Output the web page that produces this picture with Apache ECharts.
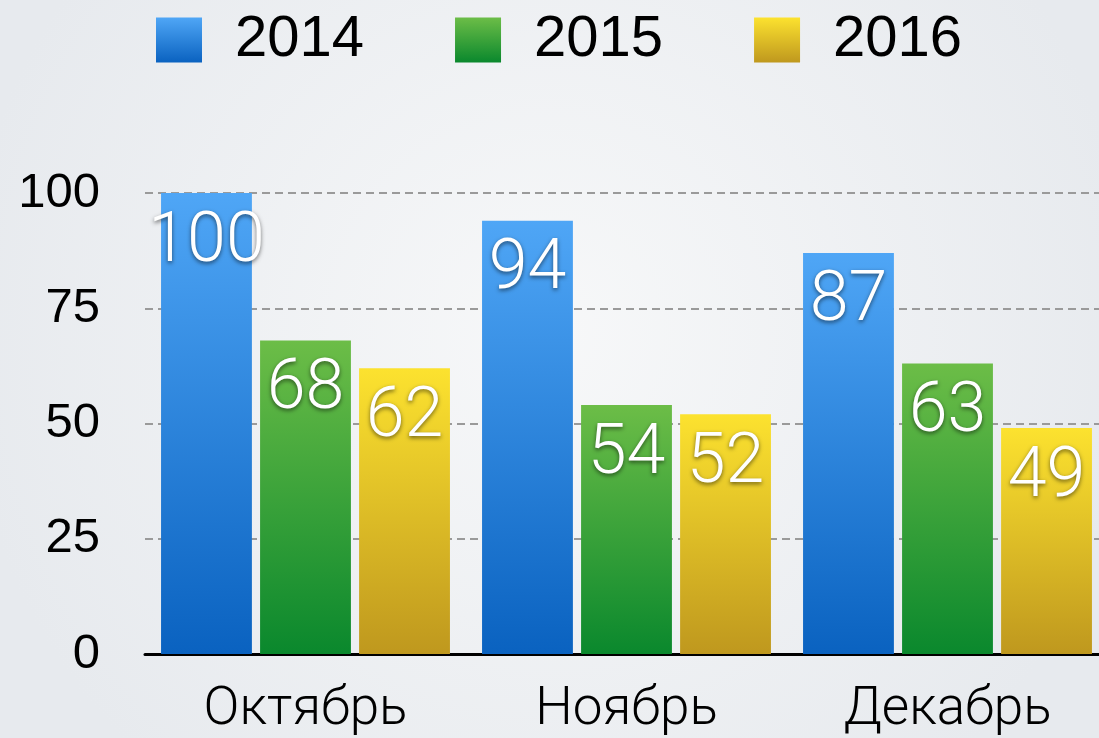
<!DOCTYPE html>
<html>
<head>
<meta charset="utf-8">
<title>chart</title>
<script src="https://cdn.jsdelivr.net/npm/echarts@6/dist/echarts.min.js"></script>
<style>
  html, body { margin: 0; padding: 0; }
  #chart { width: 1099px; height: 738px; }
</style>
</head>
<body>
<div id="chart"></div>
<script>
var months = ['Октябрь', 'Ноябрь', 'Декабрь']
var years = ['2014', '2015', '2016']
var values2014 = [100, 94, 87]
var values2015 = [68, 54, 63]
var values2016 = [62, 52, 49]
var yTicks = [0, 25, 50, 75, 100]

// верх / низ градиента для каждого года
var colors = [
  ['#4fa6f6', '#0a62c0'],
  ['#6cbd47', '#0a882d'],
  ['#fce22f', '#bf981e']
]

function grad(c) {
  return {
    type: 'linear', x: 0, y: 0, x2: 0, y2: 1,
    colorStops: [{ offset: 0, color: c[0] }, { offset: 1, color: c[1] }]
  }
}

var chart = echarts.init(document.getElementById('chart'))
var seriesData = [values2014, values2015, values2016]

var option = {
  backgroundColor: {
    type: 'radial', x: 0.5, y: 0.45, r: 0.8,
    colorStops: [{ offset: 0, color: '#f7f8f9' }, { offset: 1, color: '#e7eaee' }]
  },
  animation: false,
  legend: {
    data: years,
    left: 156,
    top: 11,
    padding: 0,
    itemWidth: 46,
    itemHeight: 45,
    itemGap: 91,
    icon: 'rect',
    textStyle: {
      fontSize: 58,
      color: '#000',
      fontFamily: 'Helvetica Neue, Helvetica, Liberation Sans, Arial',
      padding: [0, 0, 0, 28]
    }
  },
  grid: {
    left: 145,
    width: 963,
    top: 193,
    bottom: 84,
    outerBoundsMode: 'none'
  },
  xAxis: {
    type: 'category',
    data: months,
    axisTick: { show: false },
    axisLine: { lineStyle: { color: '#000', width: 3 } },
    axisLabel: {
      margin: 30,
      fontSize: 53,
      color: '#000',
      fontFamily: 'Roboto',
      fontWeight: 300
    }
  },
  yAxis: {
    type: 'value',
    min: 0,
    max: 100,
    interval: 25,
    axisLine: { show: false },
    axisTick: { show: false },
    axisLabel: {
      margin: 45,
      fontSize: 49,
      color: '#000',
      fontFamily: 'Helvetica Neue, Helvetica, Liberation Sans, Arial',
      formatter: function (v) { return yTicks.indexOf(v) >= 0 ? String(v) : '' }
    },
    splitLine: { lineStyle: { color: '#9a9a9a', width: 2, type: [8, 5] } }
  },
  series: years.map(function (y, i) {
    return {
      name: y,
      type: 'bar',
      data: seriesData[i],
      barGap: '9%',
      barCategoryGap: '10%',
      itemStyle: { color: grad(colors[i]) },
      label: {
        show: true,
        position: 'insideTop',
        distance: 15,
        fontSize: 70,
        color: '#fff',
        fontFamily: 'Roboto',
        fontWeight: 300,
        textShadowColor: 'rgba(0,0,0,0.55)',
        textShadowBlur: 4,
        textShadowOffsetY: 2
      }
    }
  })
}

chart.setOption(option)
window.addEventListener('resize', function () {
  chart.resize()
})
</script>
</body>
</html>
